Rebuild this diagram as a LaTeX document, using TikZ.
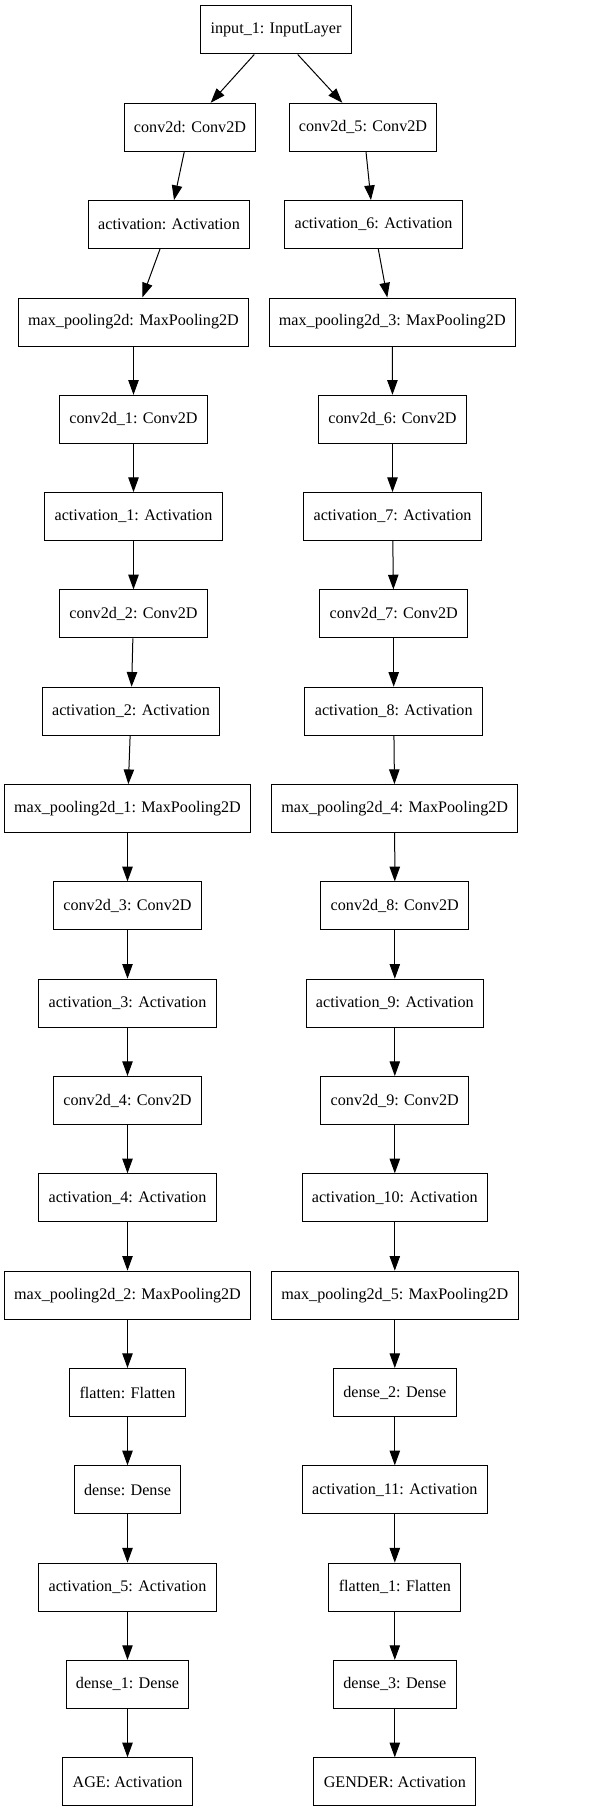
\documentclass[tikz,border=0pt]{standalone}
\usepackage{fontspec}
\setmainfont{Liberation Serif}
\usetikzlibrary{arrows.meta}

\tikzstyle{lS}=[rectangle,minimum height = 36pt,inner xsep = 7.4pt,inner ysep = 0pt,draw,line width=0.75pt, font=\fontsize{12.1}{14}\selectfont]
\tikzstyle{aS}=[line width=0.75pt,-{Triangle[length=11pt,width=7.8pt]}]

\begin{document}
\begin{tikzpicture}[x=0.75pt,y=-0.75pt]
                \useasboundingbox (0,0) rectangle (592,1812);
                \draw (276,30) node[lS] (in1) {input\_1: InputLayer};
                % left column
                \draw (190,127.3) node[lS] (cv0) {conv2d: Conv2D};
                \draw (169,224.6) node[lS] (ac0) {activation: Activation};
                \draw (133.5,322) node[lS] (mp0) {max\_pooling2d: MaxPooling2D};
                \draw (133.5,419.3) node[lS] (cv1) {conv2d\_1: Conv2D};
                \draw (133.5,516.6) node[lS] (ac1) {activation\_1: Activation};
                \draw (133.5,613.9) node[lS] (cv2) {conv2d\_2: Conv2D};
                \draw (131,711.2) node[lS] (ac2) {activation\_2: Activation};
                \draw (127.5,808.6) node[lS] (mp1) {max\_pooling2d\_1: MaxPooling2D};
                \draw (127.5,905.9) node[lS] (cv3) {conv2d\_3: Conv2D};
                \draw (127.5,1003.2) node[lS] (ac3) {activation\_3: Activation};
                \draw (127.5,1100.5) node[lS] (cv4) {conv2d\_4: Conv2D};
                \draw (127.5,1197.8) node[lS] (ac4) {activation\_4: Activation};
                \draw (127.5,1295.2) node[lS] (mp2) {max\_pooling2d\_2: MaxPooling2D};
                \draw (127.5,1392.5) node[lS] (fl0) {flatten: Flatten};
                \draw (127.5,1489.8) node[lS] (de0) {dense: Dense};
                \draw (127.5,1587.1) node[lS] (ac5) {activation\_5: Activation};
                \draw (127.5,1684.4) node[lS] (de1) {dense\_1: Dense};
                \draw (127.5,1781.8) node[lS] (age) {AGE: Activation};
                % right column
                \draw (363,127.3) node[lS] (cv5) {conv2d\_5: Conv2D};
                \draw (373.5,224.6) node[lS] (ac6) {activation\_6: Activation};
                \draw (392.3,322) node[lS] (mp3) {max\_pooling2d\_3: MaxPooling2D};
                \draw (392.5,419.3) node[lS] (cv6) {conv2d\_6: Conv2D};
                \draw (392.5,516.6) node[lS] (ac7) {activation\_7: Activation};
                \draw (393.7,613.9) node[lS] (cv7) {conv2d\_7: Conv2D};
                \draw (393.7,711.2) node[lS] (ac8) {activation\_8: Activation};
                \draw (394.7,808.6) node[lS] (mp4) {max\_pooling2d\_4: MaxPooling2D};
                \draw (394.8,905.9) node[lS] (cv8) {conv2d\_8: Conv2D};
                \draw (394.8,1003.2) node[lS] (ac9) {activation\_9: Activation};
                \draw (394.8,1100.5) node[lS] (cv9) {conv2d\_9: Conv2D};
                \draw (394.8,1197.8) node[lS] (ac10) {activation\_10: Activation};
                \draw (394.8,1295.2) node[lS] (mp5) {max\_pooling2d\_5: MaxPooling2D};
                \draw (394.8,1392.5) node[lS] (de2) {dense\_2: Dense};
                \draw (394.8,1489.8) node[lS] (ac11) {activation\_11: Activation};
                \draw (394.8,1587.1) node[lS] (fl1) {flatten\_1: Flatten};
                \draw (394.8,1684.4) node[lS] (de3) {dense\_3: Dense};
                \draw (394.8,1781.8) node[lS] (gen) {GENDER: Activation};
                \path
                    ([xshift=-16.3pt]in1.south) edge[aS] ([xshift=15.5pt]cv0.north)
                    ([xshift=16.3pt]in1.south) edge[aS] ([xshift=-15.5pt]cv5.north)
                    ([xshift=-4.3pt]cv0.south) edge[aS] ([xshift=3.75pt]ac0.north)
                    ([xshift=-6.75pt]ac0.south) edge[aS] ([xshift=6.6pt]mp0.north)
                    (mp0) edge[aS] (cv1)
                    (cv1) edge[aS] (ac1)
                    (ac1) edge[aS] (cv2)
                    (cv2) edge[aS] (ac2)
                    (ac2) edge[aS] (mp1)
                    (mp1) edge[aS] (cv3)
                    (cv3) edge[aS] (ac3)
                    (ac3) edge[aS] (cv4)
                    (cv4) edge[aS] (ac4)
                    (ac4) edge[aS] (mp2)
                    (mp2) edge[aS] (fl0)
                    (fl0) edge[aS] (de0)
                    (de0) edge[aS] (ac5)
                    (ac5) edge[aS] (de1)
                    (de1) edge[aS] (age)
                    ([xshift=2.25pt]cv5.south) edge[aS] ([xshift=-1.9pt]ac6.north)
                    ([xshift=3.6pt]ac6.south) edge[aS] ([xshift=-3.75pt]mp3.north)
                    (mp3) edge[aS] (cv6)
                    (cv6) edge[aS] (ac7)
                    (ac7) edge[aS] (cv7)
                    (cv7) edge[aS] (ac8)
                    (ac8) edge[aS] (mp4)
                    (mp4) edge[aS] (cv8)
                    (cv8) edge[aS] (ac9)
                    (ac9) edge[aS] (cv9)
                    (cv9) edge[aS] (ac10)
                    (ac10) edge[aS] (mp5)
                    (mp5) edge[aS] (de2)
                    (de2) edge[aS] (ac11)
                    (ac11) edge[aS] (fl1)
                    (fl1) edge[aS] (de3)
                    (de3) edge[aS] (gen)
                ;
\end{tikzpicture}
\end{document}
